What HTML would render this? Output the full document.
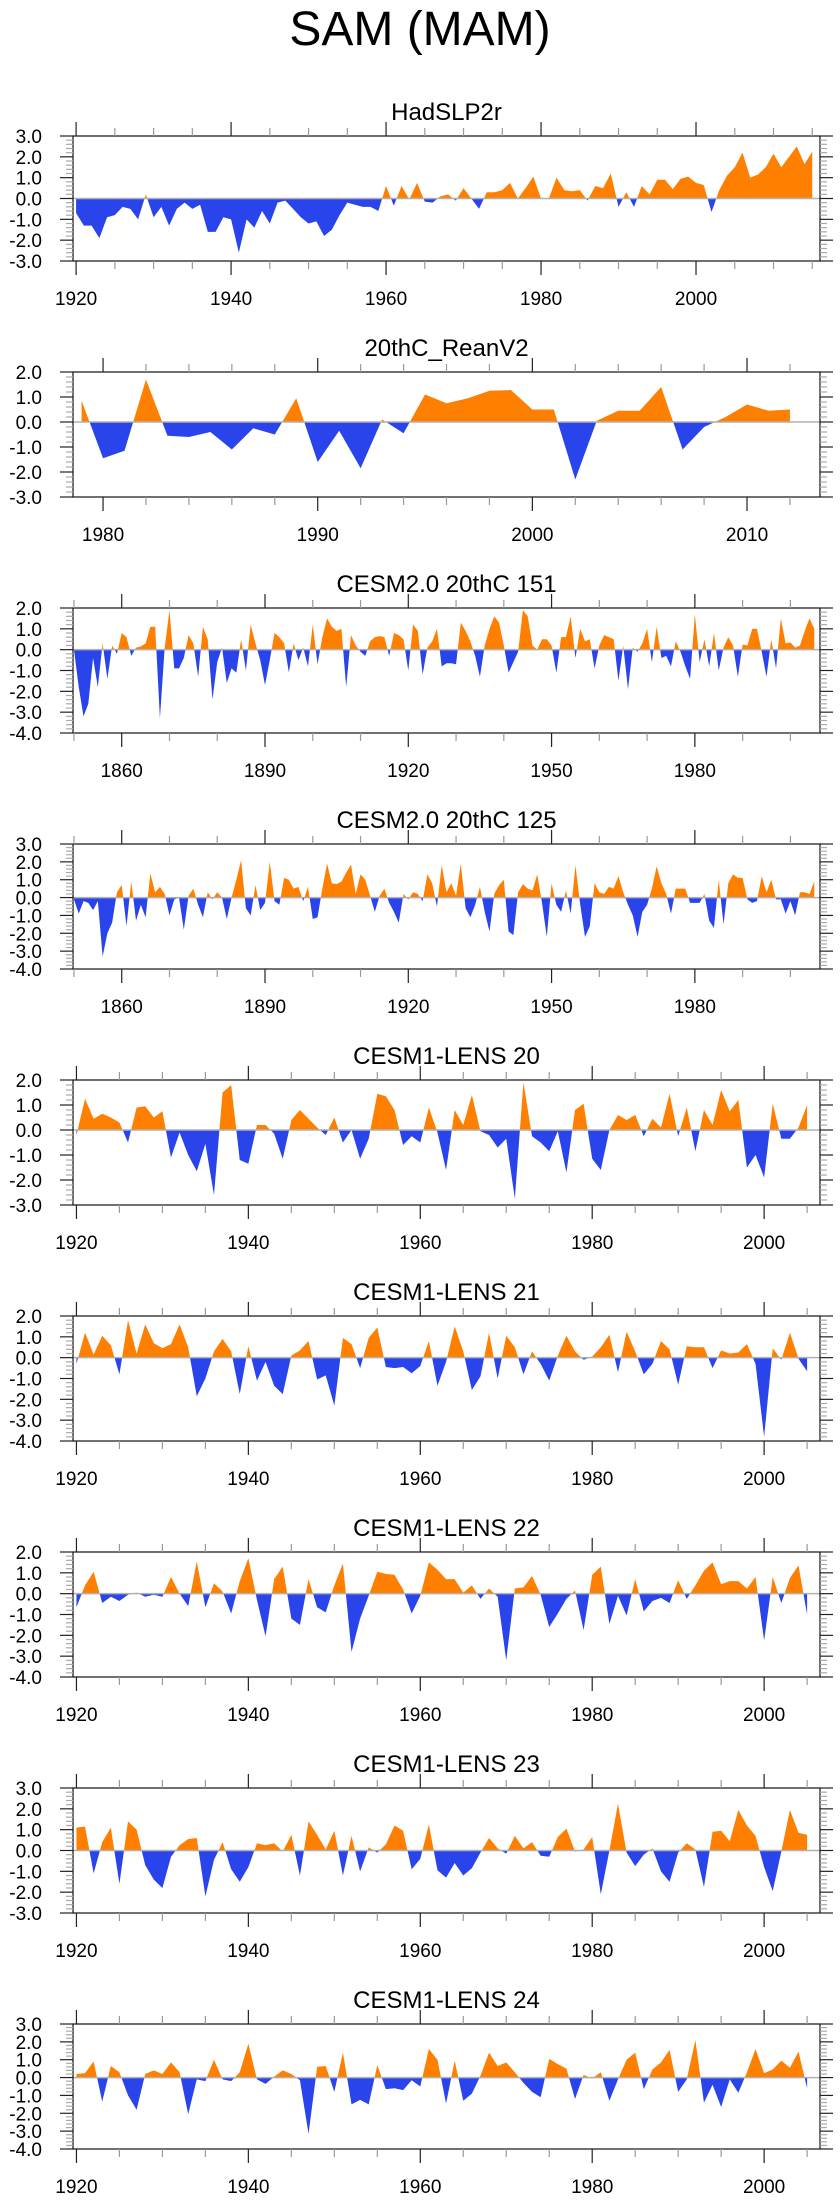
<!DOCTYPE html>
<html><head><meta charset="utf-8">
<style>
html,body{margin:0;padding:0;background:#fff;}
svg{display:block;font-family:"Liberation Sans",sans-serif;}
</style></head>
<body>
<svg id="fig" width="840" height="2200" viewBox="0 0 840 2200" xmlns="http://www.w3.org/2000/svg">
<text x="420" y="45" text-anchor="middle" font-size="48">SAM (MAM)</text>
</svg>
<script>
// ---- data ----
const titles = ["HadSLP2r","20thC_ReanV2","CESM2.0 20thC 151","CESM2.0 20thC 125","CESM1-LENS 20","CESM1-LENS 21","CESM1-LENS 22","CESM1-LENS 23","CESM1-LENS 24"];
const startYears = [1920,1979,1850,1850,1920,1920,1920,1920,1920];
const yMinVals = [-3,-3,-4,-4,-3,-4,-4,-3,-4];
const yMaxVals = [3,2,2,3,2,2,2,3,3];
const xMinVals = [1919.6,1978.6,1849.8,1849.8,1919.6,1919.6,1919.6,1919.6,1919.6];
const xMaxVals = [2016,2013.4,2006.2,2006.2,2006.5,2006.5,2006.5,2006.5,2006.5];
const xMajorStep = [20,10,30,30,20,20,20,20,20];
const xMajorStart = [1920,1980,1860,1860,1920,1920,1920,1920,1920];
const xMinorStep = [5,2,10,10,5,5,5,5,5];

const hadslp = [-0.7,-1.3,-1.3,-1.9,-0.9,-0.8,-0.4,-0.5,-1.0,0.2,-0.9,-0.4,-1.3,-0.5,-0.2,-0.5,-0.3,-1.6,-1.6,-0.9,-1.0,-2.6,-1.0,-1.4,-0.6,-1.2,-0.2,-0.1,-0.5,-0.9,-1.2,-1.1,-1.8,-1.5,-0.8,-0.2,-0.3,-0.4,-0.4,-0.6,0.6,-0.35,0.6,-0.05,0.75,-0.15,-0.2,0.1,0.2,-0.1,0.5,0.0,-0.5,0.3,0.3,0.4,0.75,0.0,0.5,1.05,0.0,0.0,1.0,0.4,0.35,0.4,-0.1,0.6,0.5,1.2,-0.4,0.3,-0.4,0.6,0.2,0.9,0.9,0.45,0.95,1.05,0.75,0.65,-0.65,0.4,1.1,1.5,2.2,1.0,1.15,1.5,2.15,1.5,2.0,2.5,1.65,2.25];
const rean = [0.85,-1.45,-1.15,1.7,-0.55,-0.6,-0.4,-1.1,-0.25,-0.5,0.95,-1.6,-0.35,-1.85,0.1,-0.45,1.1,0.75,0.95,1.25,1.28,0.5,0.5,-2.3,0.05,0.45,0.45,1.4,-1.1,-0.2,0.2,0.7,0.45,0.5];
const cesm2_151 = [0,-1.8,-3.2,-2.6,-0.4,-1.8,0.3,-1.4,0.2,-0.2,0.8,0.6,-0.3,0.1,0.15,0.3,1.1,1.1,-3.3,0.1,1.9,-0.9,-0.9,-0.4,0.7,0.3,-1.3,1.1,0.5,-2.4,-0.6,0.1,-1.6,-0.9,-1.1,0.5,-1.0,1.2,0.3,-0.5,-1.7,-0.5,0.8,0.6,0.3,-1.1,0.3,-0.5,0.1,-0.8,1.2,-0.7,0.6,1.5,1.1,0.9,1.0,-1.8,0.7,0.2,-0.1,-0.3,0.4,0.6,0.65,0.6,-0.3,0.8,0.7,0.5,-1.0,1.2,0.9,-1.2,0.1,0.4,1.0,-0.8,-0.65,-0.65,-0.7,1.3,0.9,0.4,-0.3,-1.3,0.2,1.0,1.6,1.3,0.2,-1.1,-0.6,-0.1,1.9,1.6,0.2,0.0,0.5,0.5,0.2,-1.1,0.6,0.6,1.6,-0.4,1.0,0.4,0.5,-0.9,0.2,0.7,0.6,0.5,-1.5,0.2,-1.9,0.1,-0.1,0.3,1.0,-0.6,1.1,-0.4,-0.3,-0.8,0.4,-0.1,-0.8,-1.4,1.7,-0.6,0.5,-0.8,0.8,-1.0,0.1,0.6,0.2,-1.3,0.25,0.2,1.0,1.0,-0.1,-1.3,0.5,-0.9,1.5,0.3,0.35,0.1,0.2,0.9,1.5,1.0];
const cesm2_125 = [-0.1,-0.9,-0.2,-0.3,-0.7,-0.2,-3.3,-2.0,-1.4,0.3,0.7,-1.6,0.9,-1.3,-0.4,-1.1,1.35,0.3,0.6,0.2,-1.0,-0.1,0.0,-1.8,0.1,0.5,-0.4,-1.1,0.3,-0.1,0.3,0.0,-1.2,0.0,1.0,2.1,-0.6,-1.0,0.7,-0.7,-0.3,2.0,-0.2,-0.4,1.1,1.0,0.5,0.6,-0.2,0.6,-1.2,-1.1,0.5,1.9,0.8,0.75,0.9,1.4,1.85,0.2,1.3,1.0,0.1,-0.8,0.1,0.5,-0.3,-0.8,-1.4,0.2,-0.1,0.3,0.2,-0.2,1.3,0.8,-0.5,1.8,0.3,0.8,0.1,1.9,-0.6,-1.1,-0.4,0.6,-0.8,-1.9,0.2,0.7,1.0,-1.9,-2.1,0.3,0.75,0.5,0.4,1.3,-0.3,-2.2,0.8,-0.4,-0.8,0.4,-0.9,1.8,-0.4,-2.2,-1.6,0.8,0.3,0.2,0.6,0.5,1.2,0.3,-0.4,-1.0,-2.2,-0.8,-0.4,0.5,1.75,0.8,0.2,-0.9,0.5,0.5,0.5,-0.3,-0.3,-0.3,0.2,-1.3,-1.7,1.0,-1.5,0.8,1.3,1.1,1.1,-0.1,-0.3,-0.2,1.2,0.3,1.0,-0.1,-0.1,-0.9,-0.2,-1.0,0.3,0.3,0.2,0.9];
const lens20 = [-0.2,1.25,0.45,0.65,0.5,0.3,-0.5,0.9,0.95,0.5,0.75,-1.1,-0.1,-1.0,-1.65,-0.55,-2.6,1.5,1.8,-1.2,-1.35,0.2,0.2,-0.15,-1.15,0.4,0.8,0.45,0.1,-0.2,0.5,-0.5,0.0,-1.15,-0.35,1.45,1.35,0.8,-0.6,-0.25,-0.5,0.9,-0.1,-1.6,0.8,0.2,1.4,-0.05,-0.2,-0.7,-0.35,-2.75,1.9,-0.25,-0.5,-0.85,-0.05,-1.7,0.8,1.05,-1.15,-1.6,0.0,0.6,0.4,0.6,-0.25,0.45,0.1,1.45,-0.25,0.9,-0.85,0.8,0.2,1.6,0.75,1.2,-1.5,-1.0,-1.9,1.05,-0.35,-0.35,0.1,1.0];
const lens21 = [-0.3,1.2,0.15,1.05,0.6,-0.8,1.8,0.2,1.6,0.7,0.45,0.65,1.6,0.5,-1.85,-1.0,0.3,0.9,0.3,-1.75,0.55,-1.1,-0.2,-1.35,-1.75,0.1,0.35,0.8,-1.05,-0.85,-2.3,0.95,0.65,-0.5,0.95,1.45,-0.45,-0.5,-0.45,-0.75,-0.4,0.8,-1.35,-0.2,1.5,0.3,-1.55,-0.9,1.2,-1.0,1.05,0.5,-0.8,0.3,-0.3,-1.1,0.1,1.05,0.3,-0.1,0.05,0.5,1.1,-0.7,1.25,0.3,-0.8,-0.3,0.8,0.4,-1.3,0.55,0.5,0.5,-0.5,0.35,0.2,0.25,0.65,-0.3,-3.8,0.45,-0.1,1.2,-0.05,-0.65];
const lens22 = [-0.65,0.4,1.05,-0.45,-0.15,-0.35,-0.05,0.05,-0.15,-0.05,-0.15,0.8,0.0,-0.6,1.55,-0.65,0.5,0.1,-0.95,0.6,1.7,-0.3,-2.05,0.7,1.3,-1.2,-1.5,0.7,-0.65,-0.9,0.4,1.45,-2.8,-1.2,-0.1,1.05,0.95,0.9,0.2,-0.95,-0.1,1.5,1.15,0.7,0.7,0.05,0.4,-0.25,0.25,-0.15,-3.2,0.25,0.3,0.85,-0.05,-1.6,-0.95,-0.25,0.15,-1.75,0.9,1.3,-1.45,-0.1,-1.05,0.7,-0.85,-0.35,-0.2,-0.45,0.65,-0.25,0.4,1.1,1.5,0.45,0.6,0.6,0.25,0.8,-2.25,0.8,-0.45,0.75,1.35,-1.0];
const lens23 = [1.1,1.15,-1.1,0.4,1.1,-1.6,1.4,1.0,-0.7,-1.4,-1.8,-0.3,0.25,0.55,0.6,-2.2,-0.45,0.4,-0.9,-1.5,-0.8,0.35,0.25,0.35,-0.05,0.75,-1.2,1.4,0.75,0.05,0.95,-1.2,0.7,-1.0,0.15,-0.1,0.3,1.2,0.95,-0.9,-0.4,1.25,-0.95,-1.3,-0.6,-1.2,-0.85,-0.1,0.6,0.1,-0.15,0.7,0.1,0.4,-0.25,-0.3,0.65,1.05,-0.05,0.05,0.65,-2.1,0.0,2.25,-0.1,-0.75,-0.2,0.1,-1.0,-1.5,-0.1,0.35,0.05,-1.75,0.9,0.95,0.45,1.95,1.2,0.7,-0.8,-1.95,-0.05,1.95,0.85,0.75];
const lens24 = [0.2,0.25,0.9,-1.35,0.65,0.3,-1.0,-1.8,0.2,0.4,0.2,0.85,0.3,-2.05,-0.1,-0.2,1.0,-0.1,-0.2,0.3,1.9,-0.1,-0.35,0.05,0.4,0.2,-0.15,-3.15,0.6,0.65,-0.8,1.4,-1.5,-1.25,-1.5,0.7,-0.65,-0.6,-0.7,-0.15,-0.5,1.6,1.0,-1.45,0.95,-1.3,-0.9,0.1,1.4,0.65,0.85,0.3,-0.3,-0.8,-1.1,1.05,0.75,0.5,-1.2,0.15,-0.05,0.3,-1.3,-0.1,1.0,1.4,-0.65,0.45,0.85,1.55,-0.8,-0.1,2.1,-1.4,-0.4,-1.65,-0.1,-0.85,0.3,1.6,0.25,0.45,0.95,0.55,1.45,-0.6];
const series = [hadslp,rean,cesm2_151,cesm2_125,lens20,lens21,lens22,lens23,lens24];

// ---- drawing ----
const NS = "http://www.w3.org/2000/svg";
const fig = document.getElementById('fig');
const BL = 73, BR = 820, BH = 125, TOP0 = 136, PITCH = 236;
function mk(tag, attrs, parent){
  const e = document.createElementNS(NS, tag);
  for (const k in attrs) e.setAttribute(k, attrs[k]);
  (parent||fig).appendChild(e);
  return e;
}
function fmt(v){ return (v<0?"-":"")+Math.abs(v).toFixed(1); }

for (let p=0; p<9; p++){
  const top = TOP0 + PITCH*p, bot = top + BH;
  const x0 = xMinVals[p], x1 = xMaxVals[p], y0 = yMinVals[p], y1 = yMaxVals[p];
  const sx = v => BL + (v - x0) / (x1 - x0) * (BR - BL);
  const sy = v => bot - (v - y0) / (y1 - y0) * BH;
  const g = mk('g', {});
  
  

  const t = mk('text', {x:(BL+BR)/2, y:top-16, 'text-anchor':'middle', 'font-size':'24'}, g);
  
  
  t.textContent = titles[p];

  const zy = sy(0);
  const cpA = mk('clipPath', {id:'ca'+p}, g);
  mk('rect', {x:BL, y:top, width:BR-BL, height:zy-top}, cpA);
  const cpB = mk('clipPath', {id:'cb'+p}, g);
  mk('rect', {x:BL, y:zy, width:BR-BL, height:bot-zy}, cpB);

  const vals = series[p];
  let d = 'M' + sx(startYears[p]).toFixed(2) + ',' + zy.toFixed(2);
  for (let i=0;i<vals.length;i++){
    d += ' L' + sx(startYears[p]+i).toFixed(2) + ',' + sy(vals[i]).toFixed(2);
  }
  d += ' L' + sx(startYears[p]+vals.length-1).toFixed(2) + ',' + zy.toFixed(2) + ' Z';
  const pa = mk('path', {d:d, fill:'#ff8000', 'clip-path':'url(#ca'+p+')'}, g);
  
  
  const pb = mk('path', {d:d, fill:'#2a44ec', 'clip-path':'url(#cb'+p+')'}, g);
  
  

  const zl = mk('line', {x1:BL, x2:BR, y1:zy, y2:zy, stroke:'#b0b0b0', 'stroke-width':'1.5'}, g);
  
  

  const box = mk('rect', {x:BL, y:top, width:BR-BL, height:BH, fill:'none', stroke:'#222', 'stroke-width':'1.3'}, g);
  
  

  for (let k=Math.round(y0*5); k<=Math.round(y1*5); k++){
    const v = k/5, yy = sy(v), major = (k%5===0);
    const len = major ? 13 : 7;
    const col = major ? '#222' : '#aaa';
    mk('line', {x1:BL-len, x2:BL, y1:yy, y2:yy, stroke:col, 'stroke-width':'1.2'}, g);
    mk('line', {x1:BR, x2:BR+len, y1:yy, y2:yy, stroke:col, 'stroke-width':'1.2'}, g);
    if (major){
      const lb = mk('text', {x:42, y:yy+7, 'text-anchor':'end', 'font-size':'19'}, g);
      
      
      lb.textContent = fmt(v);
    }
  }
  const ms = xMinorStep[p];
  for (let yr=Math.ceil(x0/ms)*ms; yr<=x1; yr+=ms){
    const xx = sx(yr);
    const major = ((yr - xMajorStart[p]) % xMajorStep[p] === 0);
    const len = major ? 14 : 8;
    const col = major ? '#222' : '#999';
    mk('line', {x1:xx, x2:xx, y1:top-len, y2:top, stroke:col, 'stroke-width':'1.2'}, g);
    mk('line', {x1:xx, x2:xx, y1:bot, y2:bot+len, stroke:col, 'stroke-width':'1.2'}, g);
    if (major){
      const lb = mk('text', {x:xx, y:bot+44, 'text-anchor':'middle', 'font-size':'19'}, g);
      
      
      lb.textContent = yr;
    }
  }
}
</script>
</body></html>
